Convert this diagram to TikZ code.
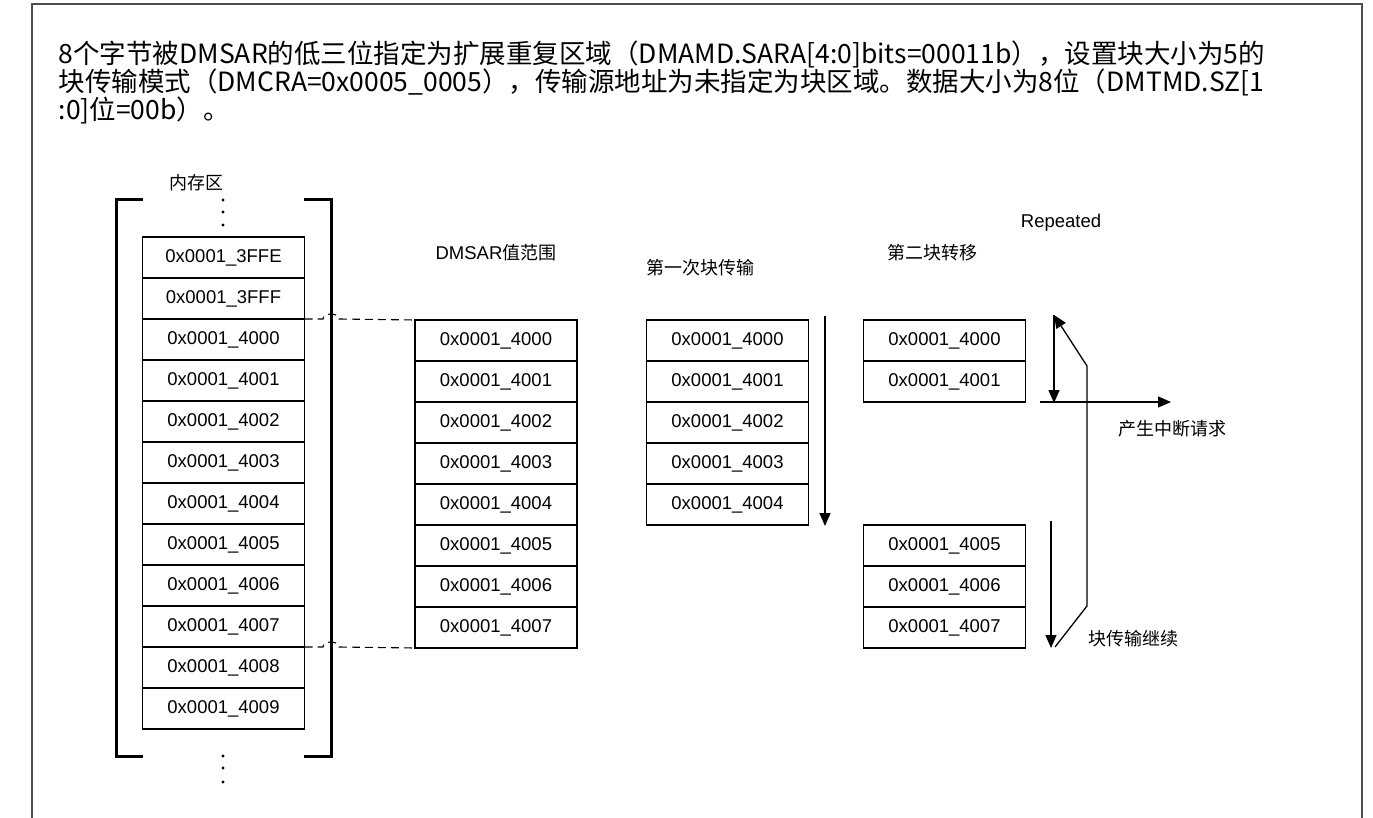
\documentclass[tikz,border=0pt]{standalone}
\usepackage{fontspec}
\setmainfont{Liberation Sans}
\newfontfamily\cjk{Noto Sans CJK SC}
\usetikzlibrary{arrows.meta, positioning, calc}
\definecolor{cframe}{HTML}{4D4D4D}
\tikzset{
  every picture/.style={line width=1.3pt},
  cell/.style={draw, minimum width=162pt, minimum height=41pt, inner sep=0pt, outer sep=0pt, font=\fontsize{18.5}{22}\selectfont},
  caption/.style={font=\cjk\fontsize{18}{22}\selectfont, inner sep=0pt},
  flow/.style={-{Triangle[length=13pt, width=11pt]}, line width=1.3pt},
  bracket/.style={line width=3pt},
  link/.style={dash pattern=on 8pt off 5pt, line width=1.1pt},
}

\begin{document}
\begin{tikzpicture}[x=1pt, y=-1pt]
  \useasboundingbox (0,0) rectangle (1373,818);
  \draw[cframe, line width=1.5pt] (32,818) -- (32,4) -- (1362,4) -- (1362,818);
  \node[anchor=north west, inner sep=0pt, align=left, font=\cjk\fontsize{26.5}{24}\selectfont] (heading) at (58,40)
    {8个字节被DMSAR的低三位指定为扩展重复区域（DMAMD.SARA[4:0]bits=00011b），设置块大小为5的\\
     块传输模式（DMCRA=0x0005\_0005），传输源地址为未指定为块区域。数据大小为8位（DMTMD.SZ[1\\
     :0]位=00b）。};
  % memory area
  \foreach \a [count=\i] in {3FFE,3FFF,4000,4001,4002,4003,4004,4005,4006,4007,4008,4009}
    \node[cell] (mem\i) at (223.5, {237+41*(\i-0.5)}) {0x0001\_\a};
  \node[caption] (memlabel) at (196,183) {内存区};
  \draw[bracket] (143,200) -- (116,200) -- (116,756) -- (143,756);
  \draw[bracket] (304,200) -- (331,200) -- (331,756) -- (304,756);
  \foreach \y in {200,212,225,756,768,782}
    \fill (223,\y) circle (1.6);
  % DMSAR range
  \foreach \a [count=\i] in {4000,4001,4002,4003,4004,4005,4006,4007}
    \node[cell] (sar\i) at (496, {320+41*(\i-0.5)}) {0x0001\_\a};
  \node[font=\fontsize{18.5}{22}\selectfont, inner sep=0pt] (sarlabel) at (496,253) {DMSAR{\cjk\fontsize{18}{22}\selectfont 值范围}};
  \draw[link] (mem3.north east) -- (323,319) arc[start angle=180, end angle=360, x radius=8, y radius=5] -- (sar1.north west);
  \draw[link] (mem10.south east) -- (323,647) arc[start angle=180, end angle=360, x radius=8, y radius=5] -- (sar8.south west);
  % first block
  \foreach \a [count=\i] in {4000,4001,4002,4003,4004}
    \node[cell] (blk\i) at (727.5, {320+41*(\i-0.5)}) {0x0001\_\a};
  \node[caption] (blklabel) at (700,268) {第一次块传输};
  \coordinate (blkA) at (825,316);
  \coordinate (blkB) at (825,526);
  \draw[flow] (blkA) -- (blkB);
  % second block
  \foreach \a/\i in {4000/1,4001/2,4005/6,4006/7,4007/8}
    \node[cell] (sec\i) at (944.5, {320+41*(\i-0.5)}) {0x0001\_\a};
  \node[caption] (seclabel) at (932,253) {第二块转移};
  \node[font=\fontsize{18.5}{22}\selectfont, inner sep=0pt] (replabel) at (1061,223) {Repeated};
  \coordinate (upA) at (1054,315);
  \coordinate (upB) at (1054,403);
  \coordinate (irqA) at (1040,402);
  \coordinate (irqB) at (1171,402);
  \coordinate (contA) at (1051,521);
  \coordinate (contB) at (1051,648);
  \coordinate (loopA) at (1055,647);
  \coordinate (loopB) at (1087,606);
  \coordinate (loopC) at (1087,366);
  \draw[flow] (upA) -- (upB);
  \draw[flow] (irqA) -- (irqB);
  \draw[flow] (contA) -- (contB);
  \draw[flow] (loopA) -- (loopB) -- (loopC) -- (upA);
  \node[caption] (irqlabel) at (1172,429) {产生中断请求};
  \node[caption] (contlabel) at (1133,639) {块传输继续};
\end{tikzpicture}
\end{document}
